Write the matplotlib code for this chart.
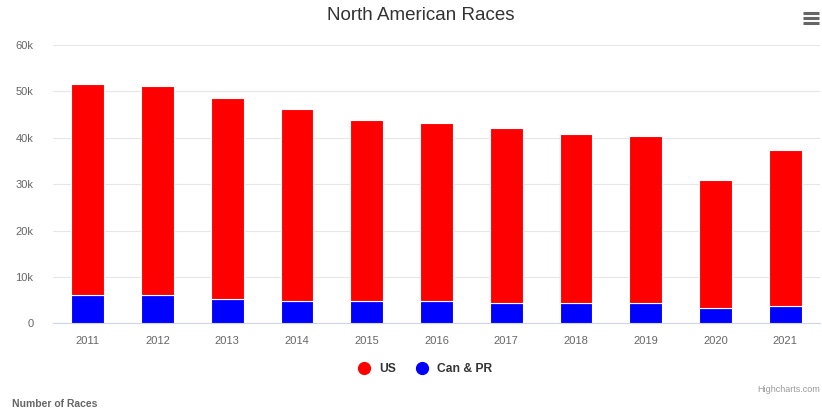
import matplotlib
matplotlib.use("Agg")
import matplotlib.pyplot as plt
from matplotlib.lines import Line2D
import numpy as np

years = ["2011", "2012", "2013", "2014", "2015", "2016", "2017", "2018", "2019", "2020", "2021"]
us = [45400, 44900, 43400, 41400, 39100, 38400, 37600, 36500, 36000, 27600, 33600]
can_pr = [6200, 6200, 5200, 4800, 4800, 4800, 4400, 4400, 4400, 3300, 3700]
yticks = [0, 10000, 20000, 30000, 40000, 50000, 60000]
ytick_labels = ["0", "10k", "20k", "30k", "40k", "50k", "60k"]

plt.rcParams['font.family'] = ['Liberation Sans', 'DejaVu Sans']

W, H = 822, 409
fig = plt.figure(figsize=(W / 100, H / 100), dpi=100)
ax = fig.add_axes([53 / W, 1 - 323.3 / H, (820 - 53) / W, (323.3 - 45) / H])

x = np.arange(len(years))
bw = 0.47
ax.bar(x, can_pr, width=bw, color="#0000ff", edgecolor="white", linewidth=0.8, zorder=3)
ax.bar(x, us, width=bw, bottom=can_pr, color="#ff0000", edgecolor="white", linewidth=0.8, zorder=3)

ax.set_xlim(-0.5, len(years) - 0.5)
ax.set_ylim(0, 60000)
ax.set_yticks(yticks)
ax.set_yticklabels(ytick_labels)
ax.set_xticks(x)
ax.set_xticklabels(years)
ax.grid(axis="y", color="#e6e6e6", linewidth=0.8, zorder=0)
for s in ["top", "right", "left"]:
    ax.spines[s].set_visible(False)
ax.spines["bottom"].set_color("#ccd6eb")
ax.spines["bottom"].set_linewidth(0.8)
ax.tick_params(axis="both", length=0, labelsize=8, labelcolor="#666666")
ax.tick_params(axis="y", pad=14)
ax.tick_params(axis="x", pad=9)

fig.text(421 / W, 1 - 16 / H, "North American Races", ha="center", va="center",
         fontsize=13.5, color="#333333")

handles = [Line2D([], [], marker="o", linestyle="", markersize=8.5, color="#ff0000"),
           Line2D([], [], marker="o", linestyle="", markersize=8.5, color="#0000ff")]
leg = fig.legend(handles, ["US", "Can & PR"], loc="center", bbox_to_anchor=(422 / W, 1 - 369 / H),
                 ncol=2, frameon=False, handletextpad=0.25, columnspacing=1.2,
                 prop={"weight": "bold", "size": 8.7})
for t in leg.get_texts():
    t.set_color("#333333")

fig.text(822 / W - 0.002, 1 - 389 / H, "Highcharts.com", ha="right", va="center",
         fontsize=6.5, color="#999999")
fig.text(12 / W, 1 - 404 / H, "Number of Races", ha="left", va="center",
         fontsize=7.5, fontweight="bold", color="#666666")

for yy in [13, 18, 23]:
    fig.add_artist(Line2D([803 / W, 819 / W], [1 - yy / H, 1 - yy / H], color="#666666",
                          linewidth=2.2, solid_capstyle="butt"))

fig.savefig("out.png", dpi=100)
